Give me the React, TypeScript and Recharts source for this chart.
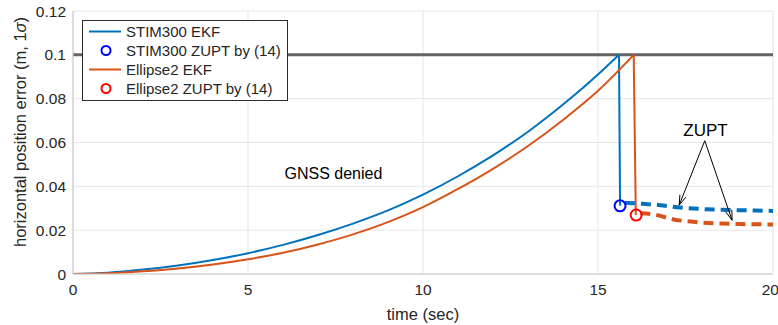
import React from "react";
import {
  ComposedChart,
  Line,
  XAxis,
  YAxis,
  CartesianGrid,
  ReferenceLine,
  ReferenceDot,
  Legend,
} from "recharts";

// ---------- data ----------
const stimEkf = [
  { t: 0, v: 0 },
  { t: 1, v: 0.0006 },
  { t: 2, v: 0.002 },
  { t: 3, v: 0.0039 },
  { t: 4, v: 0.0064 },
  { t: 5, v: 0.0095 },
  { t: 6, v: 0.0133 },
  { t: 7, v: 0.0178 },
  { t: 8, v: 0.023 },
  { t: 9, v: 0.029 },
  { t: 10, v: 0.0362 },
  { t: 11, v: 0.0446 },
  { t: 12, v: 0.0541 },
  { t: 13, v: 0.0649 },
  { t: 14, v: 0.0773 },
  { t: 15, v: 0.091 },
  { t: 15.6, v: 0.1 },
];
const stimDrop = [
  { t: 15.6, v: 0.1 },
  { t: 15.63, v: 0.0311 },
];

const ellipseEkf = [
  { t: 0, v: 0 },
  { t: 1, v: 0.0003 },
  { t: 2, v: 0.0012 },
  { t: 3, v: 0.0025 },
  { t: 4, v: 0.0043 },
  { t: 5, v: 0.0067 },
  { t: 6, v: 0.0097 },
  { t: 7, v: 0.0135 },
  { t: 8, v: 0.0181 },
  { t: 9, v: 0.0237 },
  { t: 10, v: 0.0305 },
  { t: 11, v: 0.0388 },
  { t: 12, v: 0.048 },
  { t: 13, v: 0.0584 },
  { t: 14, v: 0.0703 },
  { t: 15, v: 0.0836 },
  { t: 16.02, v: 0.1 },
];
const ellipseDrop = [
  { t: 16.02, v: 0.1 },
  { t: 16.08, v: 0.0269 },
];

const stimZupt = [
  { t: 15.77, v: 0.0325 },
  { t: 16.2, v: 0.0321 },
  { t: 16.78, v: 0.0314 },
  { t: 17.35, v: 0.0303 },
  { t: 17.92, v: 0.0297 },
  { t: 18.5, v: 0.0293 },
  { t: 19.07, v: 0.0291 },
  { t: 20, v: 0.0288 },
];

const ellipseZupt = [
  { t: 16.21, v: 0.0277 },
  { t: 16.59, v: 0.0272 },
  { t: 17.16, v: 0.0249 },
  { t: 17.73, v: 0.0238 },
  { t: 18.4, v: 0.0231 },
  { t: 19.07, v: 0.0228 },
  { t: 20, v: 0.0226 },
];

const stimZuptPoint = [{ t: 15.63, v: 0.0311 }];
const ellipseZuptPoint = [{ t: 16.09, v: 0.0269 }];

const xTicks = [0, 5, 10, 15, 20];
const yTicks = [0, 0.02, 0.04, 0.06, 0.08, 0.1, 0.12];
const thresholdValue = 0.1;

const legendItems = [
  { label: "STIM300 EKF", kind: "line", color: "#0072BD" },
  { label: "STIM300 ZUPT by (14)", kind: "circle", color: "#0000FF" },
  { label: "Ellipse2 EKF", kind: "line", color: "#D95319" },
  { label: "Ellipse2 ZUPT by (14)", kind: "circle", color: "#FF0000" },
];

const gnssText = { t: 7.44, v: 0.046, label: "GNSS denied" };
const zuptText = { t: 18.07, v: 0.0656, label: "ZUPT" };
const arrowStart = { t: 18.05, v: 0.0608 };
const arrowTips = [
  { t: 17.32, v: 0.0314 },
  { t: 18.83, v: 0.0245 },
];

// ---------- styles ----------
const FONT = "'Liberation Sans', Arial, Helvetica, sans-serif";
const TXT = "#262626";

const fmtY = (v: number) => String(Number(v.toFixed(2)));

const Arrow = (props: any) => {
  const { x1, y1, x2, y2 } = props;
  if ([x1, y1, x2, y2].some((n) => typeof n !== "number" || isNaN(n))) return null;
  const ang = Math.atan2(y2 - y1, x2 - x1);
  const L = 10;
  const W = 3.2;
  const bx = x2 - L * Math.cos(ang);
  const by = y2 - L * Math.sin(ang);
  const px = -Math.sin(ang) * W;
  const py = Math.cos(ang) * W;
  return (
    <g>
      <line x1={x1} y1={y1} x2={x2} y2={y2} stroke="#000" strokeWidth={1} />
      <polyline
        points={`${bx + px},${by + py} ${x2},${y2} ${bx - px},${by - py}`}
        fill="none"
        stroke="#000"
        strokeWidth={1}
      />
    </g>
  );
};

const LegendBox = () => (
  <div
    style={{
      border: "1px solid #2b2b2b",
      background: "#fff",
      padding: "1px 6px 2px 5px",
      fontFamily: FONT,
      fontSize: 15,
      color: TXT,
      lineHeight: "19px",
    }}
  >
    {legendItems.map((it) => (
      <div key={it.label} style={{ display: "flex", alignItems: "center", whiteSpace: "nowrap" }}>
        <svg width={36} height={19} style={{ marginRight: 2 }}>
          {it.kind === "line" ? (
            <line x1={1} y1={9.5} x2={33} y2={9.5} stroke={it.color} strokeWidth={2} />
          ) : (
            <circle cx={18} cy={9.5} r={4.5} fill="none" stroke={it.color} strokeWidth={2} />
          )}
        </svg>
        <span>{it.label}</span>
      </div>
    ))}
  </div>
);

const YLabel = () => (
  <text
    x={20}
    y={132}
    transform="rotate(-90, 20, 132)"
    textAnchor="middle"
    dominantBaseline="central"
    fontFamily={FONT}
    fontSize={16.5}
    fill={TXT}
  >
    horizontal position error (m, 1<tspan fontStyle="italic">σ</tspan>)
  </text>
);

export default function App() {
  return (
    <div style={{ position: "absolute", left: 0, top: 0, width: 778, height: 325, background: "#fff" }}>
      <ComposedChart
        width={778}
        height={325}
        margin={{ top: 11, right: 5, bottom: 0, left: 0 }}
        style={{ fontFamily: FONT }}
      >
        <CartesianGrid stroke="#e6e6e6" strokeWidth={1} />
        <XAxis
          dataKey="t"
          type="number"
          domain={[0, 20]}
          ticks={xTicks}
          height={51}
          tickSize={0}
          tickMargin={10}
          tickLine={false}
          axisLine={{ stroke: "#c8c8c8" }}
          tick={{ fill: TXT, fontSize: 15.5, fontFamily: FONT }}
          allowDataOverflow
          label={{ value: "time (sec)", position: "insideBottom", offset: 5, fill: TXT, fontSize: 16.5, fontFamily: FONT }}
        />
        <XAxis
          xAxisId="top"
          dataKey="t"
          type="number"
          orientation="top"
          domain={[0, 20]}
          ticks={xTicks}
          height={0}
          tick={false}
          tickLine={false}
          axisLine={{ stroke: "#c8c8c8" }}
        />
        <YAxis
          type="number"
          domain={[0, 0.12]}
          ticks={yTicks}
          width={73}
          tickSize={0}
          tickMargin={7}
          tickLine={false}
          axisLine={{ stroke: "#c8c8c8" }}
          tickFormatter={fmtY}
          tick={{ fill: TXT, fontSize: 15.5, fontFamily: FONT }}
          label={<YLabel />}
          allowDataOverflow
        />
        <YAxis
          yAxisId="right"
          orientation="right"
          type="number"
          domain={[0, 0.12]}
          ticks={yTicks}
          width={0}
          tick={false}
          tickLine={false}
          axisLine={{ stroke: "#c8c8c8" }}
        />
        <ReferenceLine y={thresholdValue} stroke="#646464" strokeWidth={3} />
        <Line
          data={stimEkf}
          dataKey="v"
          type="monotone"
          stroke="#0072BD"
          strokeWidth={2}
          dot={false}
          isAnimationActive={false}
          name="STIM300 EKF"
        />
        <Line
          data={stimDrop}
          dataKey="v"
          stroke="#0072BD"
          strokeWidth={2}
          dot={false}
          isAnimationActive={false}
          legendType="none"
        />
        <Line
          data={ellipseEkf}
          dataKey="v"
          type="monotone"
          stroke="#D95319"
          strokeWidth={2}
          dot={false}
          isAnimationActive={false}
          name="Ellipse2 EKF"
        />
        <Line
          data={ellipseDrop}
          dataKey="v"
          stroke="#D95319"
          strokeWidth={2}
          dot={false}
          isAnimationActive={false}
          legendType="none"
        />
        <Line
          data={stimZupt}
          dataKey="v"
          type="monotone"
          stroke="#0072BD"
          strokeWidth={4}
          strokeDasharray="10 6"
          dot={false}
          isAnimationActive={false}
          legendType="none"
        />
        <Line
          data={ellipseZupt}
          dataKey="v"
          type="monotone"
          stroke="#D95319"
          strokeWidth={4}
          strokeDasharray="10 6"
          dot={false}
          isAnimationActive={false}
          legendType="none"
        />
        <Line
          data={stimZuptPoint}
          dataKey="v"
          stroke="none"
          dot={{ r: 5.5, stroke: "#0000FF", strokeWidth: 2, fill: "none" }}
          isAnimationActive={false}
          name="STIM300 ZUPT by (14)"
        />
        <Line
          data={ellipseZuptPoint}
          dataKey="v"
          stroke="none"
          dot={{ r: 5.5, stroke: "#FF0000", strokeWidth: 2, fill: "none" }}
          isAnimationActive={false}
          name="Ellipse2 ZUPT by (14)"
        />
        {arrowTips.map((tip, i) => (
          <ReferenceLine
            key={i}
            segment={[
              { x: arrowStart.t, y: arrowStart.v },
              { x: tip.t, y: tip.v },
            ]}
            shape={Arrow}
            ifOverflow="visible"
          />
        ))}
        <ReferenceDot
          x={gnssText.t}
          y={gnssText.v}
          r={0}
          stroke="none"
          fill="none"
          label={{ value: gnssText.label, position: "center", fill: "#000", fontSize: 16, fontFamily: FONT }}
        />
        <ReferenceDot
          x={zuptText.t}
          y={zuptText.v}
          r={0}
          stroke="none"
          fill="none"
          label={{ value: zuptText.label, position: "center", fill: "#000", fontSize: 17, fontFamily: FONT }}
        />
        <Legend
          layout="vertical"
          align="center"
          verticalAlign="middle"
          content={<LegendBox />}
          wrapperStyle={{ left: 82, top: 20, width: "auto", transform: "none" }}
        />
      </ComposedChart>
    </div>
  );
}
